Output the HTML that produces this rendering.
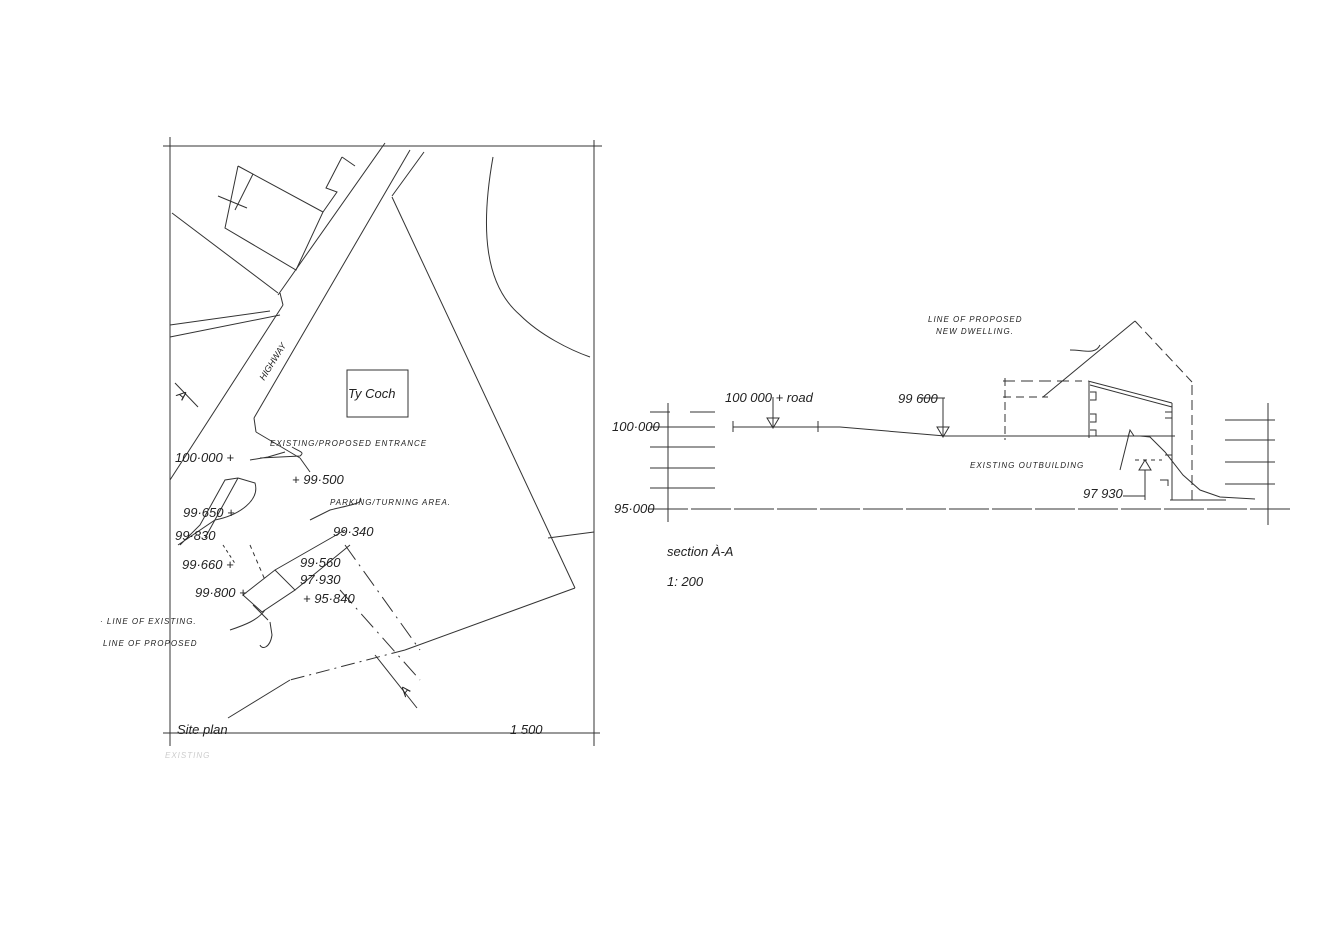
<!DOCTYPE html>
<html><head><meta charset="utf-8"><style>
html,body{margin:0;padding:0;background:#fff;}
svg{display:block}
text{font-family:"Liberation Sans",sans-serif;font-style:italic;fill:#222}
.s{font-size:8px;letter-spacing:1px}
.n{font-size:13px}
</style></head><body>
<svg width="1344" height="952" viewBox="0 0 1344 952" xmlns="http://www.w3.org/2000/svg">
<g stroke="#333" stroke-width="1" fill="none">
<!-- frame -->
<line x1="163" y1="146" x2="602" y2="146"/>
<line x1="170" y1="137" x2="170" y2="746"/>
<line x1="594" y1="140" x2="594" y2="746"/>
<line x1="163" y1="733" x2="600" y2="733"/>
<!-- road -->
<line x1="385" y1="143" x2="278" y2="295"/>
<line x1="280" y1="293" x2="283" y2="305"/>
<line x1="283" y1="305" x2="170" y2="480"/>
<line x1="410" y1="150" x2="254" y2="418"/>
<line x1="254" y1="418" x2="256" y2="432"/>
<line x1="256" y1="432" x2="300" y2="458"/>
<line x1="424" y1="152" x2="392" y2="196"/>
<!-- triangle site -->
<line x1="392" y1="197" x2="575" y2="588"/>
<line x1="575" y1="588" x2="405" y2="650"/>
<line x1="405" y1="650" x2="290" y2="680" stroke-dasharray="14,5,2,5"/>
<line x1="290" y1="680" x2="228" y2="718"/>
<!-- curve right -->
<path d="M493,157 C480,230 485,285 520,315 C540,335 570,350 590,357"/>
<line x1="548" y1="538" x2="594" y2="532"/>
<!-- building top-left -->
<path d="M238,166 L323,212 L296,270 L225,228 L238,166"/>
<line x1="218" y1="196" x2="247" y2="208"/>
<line x1="253" y1="174" x2="235" y2="210"/>
<path d="M342,157 L355,166"/>
<path d="M342,157 L326,188 L337,192 L323,212"/>
<!-- lines from left -->
<line x1="172" y1="213" x2="278" y2="293"/>
<line x1="170" y1="325" x2="270" y2="311"/>
<line x1="170" y1="337" x2="280" y2="315"/>
<!-- A markers -->
<line x1="175" y1="383" x2="198" y2="407"/>
<line x1="375" y1="655" x2="417" y2="708"/>
<line x1="340" y1="590" x2="420" y2="680" stroke-dasharray="18,6,2,6"/>
<line x1="345" y1="545" x2="420" y2="650" stroke-dasharray="18,6,2,6"/>
<!-- Ty Coch -->
<rect x="347" y="370" width="61" height="47"/>
<!-- parking area shapes -->
<path d="M238,478 L225,480 L200,525 L180,545 M238,478 L255,483 C260,500 240,515 215,520 L178,545"/>
<line x1="238" y1="478" x2="205" y2="538"/>
<line x1="300" y1="458" x2="310" y2="472"/>
<path d="M243,595 L275,570 L295,590 L262,612 Z"/>
<line x1="275" y1="570" x2="345" y2="530"/>
<line x1="295" y1="590" x2="350" y2="545"/>
<line x1="223" y1="545" x2="236" y2="565" stroke-dasharray="3,3"/>
<line x1="250" y1="545" x2="265" y2="580" stroke-dasharray="4,4"/>
<line x1="253" y1="605" x2="268" y2="620"/>
<!-- arrows -->
<path d="M250,460 L268,457 L285,452 M292,447 C300,452 305,452 300,456 L260,458"/>
<path d="M310,520 L330,510 C350,505 365,503 360,498"/>
<path d="M230,630 C245,625 258,620 265,610"/>
<path d="M260,645 C262,650 270,648 272,635 L270,622"/>
<!-- SECTION -->
<line x1="648" y1="509" x2="1292" y2="509" stroke-dasharray="40,3"/>
<line x1="668" y1="403" x2="668" y2="522"/>
<line x1="650" y1="412" x2="715" y2="412" stroke-dasharray="20,20,25"/>
<line x1="650" y1="427" x2="715" y2="427"/>
<line x1="650" y1="447" x2="715" y2="447"/>
<line x1="650" y1="468" x2="715" y2="468"/>
<line x1="650" y1="488" x2="715" y2="488"/>
<line x1="1268" y1="403" x2="1268" y2="525"/>
<line x1="1225" y1="420" x2="1275" y2="420"/>
<line x1="1225" y1="440" x2="1275" y2="440"/>
<line x1="1225" y1="462" x2="1275" y2="462"/>
<line x1="1225" y1="484" x2="1275" y2="484"/>
<!-- ground profile -->
<path d="M733,427 L840,427 L945,436 L1175,436"/>
<line x1="733" y1="421" x2="733" y2="432"/>
<line x1="818" y1="421" x2="818" y2="432"/>
<line x1="773" y1="397" x2="773" y2="427"/>
<path d="M767,418 L779,418 L773,428 Z"/>
<line x1="943" y1="398" x2="943" y2="436"/>
<path d="M937,427 L949,427 L943,437 Z"/>
<line x1="920" y1="398" x2="945" y2="398"/>
<!-- dwelling -->
<line x1="1005" y1="378" x2="1005" y2="440" stroke-dasharray="8,4"/>
<line x1="1003" y1="381" x2="1082" y2="381" stroke-dasharray="12,6"/>
<line x1="1003" y1="397" x2="1048" y2="397" stroke-dasharray="8,5"/>
<line x1="1043" y1="397" x2="1135" y2="321"/>
<line x1="1135" y1="321" x2="1192" y2="382" stroke-dasharray="10,5"/>
<line x1="1192" y1="385" x2="1192" y2="500" stroke-dasharray="10,5"/>
<path d="M1070,350 C1085,350 1095,355 1100,345"/>
<!-- outbuilding -->
<line x1="1088" y1="381" x2="1172" y2="403"/>
<line x1="1090" y1="385" x2="1172" y2="407"/>
<line x1="1089" y1="382" x2="1089" y2="438"/>
<line x1="1172" y1="403" x2="1172" y2="500"/>
<path d="M1090,392 h6 v8 h-6 M1090,414 h6 v8 h-6 M1090,430 h6 v6 M1165,412 h7 v6 h-7 M1165,455 h7 v6 M1160,480 h8 v6"/>
<path d="M1140,436 L1150,437 L1165,452 L1183,475 L1200,490 L1220,497 L1255,499"/>
<line x1="1170" y1="500" x2="1226" y2="500"/>
<line x1="1145" y1="470" x2="1145" y2="500"/>
<path d="M1139,470 L1151,470 L1145,460 Z"/>
<line x1="1123" y1="496" x2="1145" y2="496"/>
<line x1="1135" y1="460" x2="1162" y2="460" stroke-dasharray="4,4"/>
<path d="M1128,437 L1130,430 L1134,436 M1130,430 L1120,470"/>
</g>
<!-- texts site plan -->
<text class="n" x="348" y="398">Ty Coch</text>
<text class="n" x="175" y="462">100·000 +</text>
<text class="n" x="292" y="484">+ 99·500</text>
<text class="n" x="183" y="517">99·650 +</text>
<text class="n" x="175" y="540">99·830</text>
<text class="n" x="182" y="569">99·660 +</text>
<text class="n" x="195" y="597">99·800 +</text>
<text class="n" x="333" y="536">99·340</text>
<text class="n" x="300" y="567">99·560</text>
<text class="n" x="300" y="584">97·930</text>
<text class="n" x="303" y="603">+ 95·840</text>
<text class="s" x="270" y="446">EXISTING/PROPOSED ENTRANCE</text>
<text class="s" x="330" y="505">PARKING/TURNING AREA.</text>
<text class="s" x="100" y="624">· LINE OF EXISTING.</text>
<text class="s" x="103" y="646">LINE OF PROPOSED</text>
<text class="n" x="178" y="400" transform="rotate(40 183 395)">A</text>
<text class="n" x="400" y="695" transform="rotate(-50 405 690)">A</text>
<text class="n" x="258" y="380" font-size="9" transform="rotate(-58 262 375)" style="font-size:9px">HIGHWAY</text>
<text class="n" x="177" y="734">Site plan</text>
<text class="n" x="510" y="734">1 500</text>
<text class="s" x="165" y="758" fill="#ccc" style="fill:#ccc">EXISTING</text>
<!-- section texts -->
<text class="n" x="612" y="431">100·000</text>
<text class="n" x="614" y="513">95·000</text>
<text class="n" x="725" y="402">100 000 + road</text>
<text class="n" x="898" y="403">99 600</text>
<text class="n" x="1083" y="498">97 930</text>
<text class="s" x="928" y="322">LINE OF PROPOSED</text>
<text class="s" x="936" y="334">NEW DWELLING.</text>
<text class="s" x="970" y="468">EXISTING OUTBUILDING</text>
<text class="n" x="667" y="556">section À-A</text>
<text class="n" x="667" y="586">1: 200</text>
</svg>
</body></html>
